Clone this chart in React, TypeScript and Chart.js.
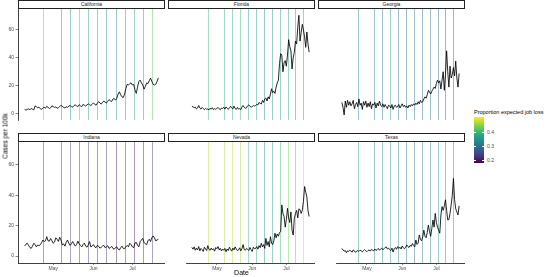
import { useEffect, useRef } from "react";
import { Chart, registerables } from "chart.js";

Chart.register(...registerables);

// ---------------- data ----------------
const stateNames = ["California", "Florida", "Georgia", "Indiana", "Nevada", "Texas"];
const firstDay = 8; // Apr 9 (days after Apr 1)
const weekDays = [22, 36, 43, 50, 57, 64, 71, 78, 85, 92, 99, 106];
const monthTickDays = [30, 61, 91];
const monthTickLabels = ["May", "Jun", "Jul"];
const yTickValues = [0, 20, 40, 60];
const legendTickValues = [0.2, 0.3, 0.4];
const xMin = 2.85;
const xMax = 116.15;
const yMin = -4.6;
const yMax = 75;
const jobLossMin = 0.18;
const jobLossMax = 0.505;

const californiaCases = [
  2.9, 2.5, 3.0, 3.4, 2.8, 3.6, 3.2,
  2.6, 5.5, 5.0, 4.2, 4.6, 3.5, 3.0,
  4.0, 4.6, 3.8, 5.2, 4.5, 3.6, 4.2,
  5.6, 5.0, 4.4, 4.8, 3.8, 4.2, 5.0,
  6.0, 5.2, 4.5, 4.0, 5.0, 4.4, 5.4,
  5.8, 5.0, 4.6, 5.8, 6.2, 5.6, 5.0,
  6.4, 5.6, 5.0, 6.6, 6.0, 5.4, 6.2,
  7.0, 6.4, 5.8, 6.6, 7.6, 6.8, 6.0,
  7.4, 8.6, 7.6, 6.8, 8.0, 9.0, 8.2,
  7.6, 8.8, 10.0, 9.2, 8.6, 10.4, 10.8,
  9.6, 11.0, 14.0, 15.6, 13.5, 12.0, 11.5,
  14.0, 18.0, 21.0, 20.5, 21.5, 22.0, 20.5,
  21.0, 17.0, 14.5, 19.0, 23.0, 24.0, 22.0,
  20.5, 17.5, 19.5, 22.0, 21.5, 23.5, 25.5,
  23.0, 21.0, 20.5, 21.0, 23.0, 25.5,
];
const floridaCases = [
  5.3, 4.8, 4.2, 4.6, 3.4, 4.0, 5.8,
  4.0, 3.2, 4.4, 3.6, 2.8, 3.8, 3.0,
  3.4, 2.6, 3.8, 3.2, 4.2, 2.8, 3.6,
  3.0, 3.8, 4.4, 3.4, 2.8, 4.0, 3.6,
  4.6, 3.2, 4.8, 3.8, 3.0, 4.2, 5.2,
  4.0, 3.4, 5.4, 3.6, 3.0, 4.4, 3.2,
  3.6, 2.8, 4.8, 5.8, 4.4, 3.8, 4.2,
  5.6, 6.2, 5.4, 4.6, 5.0, 5.8, 5.4,
  5.8, 6.6, 6.2, 8.0, 7.4, 6.8, 9.5,
  8.0, 10.5, 11.2, 9.0, 12.0, 10.5, 14.0,
  17.8, 15.0, 16.0, 14.5, 19.0, 22.0, 24.0,
  36.0, 43.0, 42.0, 30.0, 36.5, 38.0, 34.0,
  42.0, 53.0, 48.0, 45.0, 32.0, 40.0, 44.0,
  52.0, 50.0, 62.0, 70.5, 52.0, 58.0, 64.0,
  60.0, 55.0, 47.5, 58.5, 50.0, 44.0,
];
const georgiaCases = [
  8.0, 4.5, -1.0, 9.0, 4.5, 9.5, 6.0,
  8.5, 5.5, 7.0, 9.5, 3.5, 6.5, 8.0,
  5.0, 10.5, 6.0, 7.5, 3.0, 8.5, 6.0,
  9.0, 4.5, 7.5, 5.0, 8.5, 3.5, 7.0,
  6.0, 8.0, 4.0, 7.5, 5.5, 9.0, 6.0,
  5.0, 7.0, 4.5, 6.5, 5.0, 3.5, 6.0,
  5.5, 4.0, 6.5, 3.0, 5.5, 6.0, 4.5,
  5.0, 6.5, 4.0, 5.5, 7.0, 5.0, 6.0,
  4.5, 5.5, 4.0, 6.0, 5.0, 6.5, 5.5,
  7.0, 6.0, 7.5, 6.5, 8.5, 7.0, 9.5,
  8.0, 8.5, 10.5, 12.0, 11.0, 13.5, 16.7,
  15.5, 14.0, 16.0, 17.5, 19.0, 18.0, 21.5,
  24.0, 22.0, 23.5, 17.6, 24.0, 30.0, 16.7,
  28.0, 45.0, 30.0, 19.0, 34.0, 25.5, 28.0,
  33.0, 27.0, 37.6, 25.5, 19.0, 28.8,
];
const indianaCases = [
  6.6, 7.8, 8.4, 7.0, 5.6, 5.0, 6.4,
  8.4, 7.6, 6.0, 7.2, 6.8, 7.4, 8.8,
  10.5, 9.5, 10.0, 12.7, 10.0, 9.8, 11.5,
  10.0, 8.4, 9.2, 12.0, 11.0, 9.6, 12.3,
  10.5, 7.3, 8.0, 6.5, 9.0, 10.5, 8.5,
  7.0, 8.0, 9.5, 8.0, 6.5, 7.5, 9.8,
  8.0, 7.0, 6.0, 7.5, 8.5, 6.5, 5.8,
  7.3, 9.5, 6.0, 6.5, 7.5, 6.0, 5.5,
  7.0, 6.4, 5.2, 5.7, 6.5, 7.0, 5.5,
  6.0, 6.8, 5.0, 5.5, 6.4, 5.0, 4.5,
  5.6, 6.0, 4.5, 4.0, 5.5, 6.5, 5.0,
  4.8, 6.0, 7.0, 6.0, 8.4, 7.5, 6.0,
  5.5, 8.5, 9.0, 7.0, 6.0, 9.5, 10.5,
  11.6, 9.0, 8.0, 7.4, 10.0, 11.0, 9.5,
  12.0, 13.2, 12.0, 10.0, 10.5, 11.0,
];
const nevadaCases = [
  5.7, 4.5, 6.0, 3.8, 5.2, 4.0, 6.2,
  3.4, 5.0, 4.2, 3.0, 5.8, 4.6, 3.6,
  6.8, 4.4, 3.8, 5.2, 4.0, 4.8, 3.2,
  5.6, 4.8, 6.2, 4.0, 5.0, 3.4, 4.6,
  3.8, 5.0, 2.8, 4.6, 3.6, 5.8, 4.4,
  3.2, 5.2, 4.0, 6.0, 4.6, 3.6, 4.0,
  5.4, 3.4, 4.8, 7.5, 4.2, 3.8, 5.0,
  4.4, 3.6, 5.6, 4.2, 3.0, 5.8, 4.8,
  5.0, 6.2, 4.5, 6.8, 5.5, 8.4, 6.0,
  7.5, 5.0, 11.6, 7.0, 9.5, 6.0, 12.7,
  8.5, 7.5, 10.0, 15.0, 12.0, 14.5, 13.0,
  15.5, 16.0, 33.6, 28.0, 26.0, 19.0, 24.0,
  31.4, 25.0, 22.0, 29.0, 17.0, 13.8, 24.8,
  28.0, 30.0, 25.0, 31.0, 30.5, 28.0, 30.0,
  36.0, 45.7, 42.0, 39.0, 30.0, 26.0,
];
const texasCases = [
  5.0, 4.0, 3.2, 3.6, 2.2, 3.4, 3.0,
  3.8, 3.2, 2.6, 4.0, 3.4, 2.4, 3.2,
  3.6, 3.0, 3.8, 3.4, 2.8, 3.6, 4.2,
  3.4, 2.8, 3.6, 4.0, 3.2, 4.4, 3.8,
  3.4, 4.6, 3.6, 4.2, 5.0, 3.8, 4.6,
  5.2, 4.0, 4.8, 5.6, 6.0, 4.6, 5.2,
  4.2, 3.6, 5.2, 2.6, 4.8, 5.6, 4.4,
  6.2, 5.0, 5.8, 4.6, 6.6, 5.4, 4.8,
  5.8, 7.3, 6.2, 5.6, 7.0, 6.4, 8.2,
  7.0, 6.0, 10.5, 7.6, 8.5, 13.8, 11.0,
  10.0, 12.5, 17.0, 13.0, 12.0, 15.5, 20.4,
  16.0, 13.0, 18.0, 23.7, 19.0, 28.0, 22.0,
  19.0, 17.0, 15.0, 27.0, 32.5, 30.0, 33.0,
  37.0, 30.0, 23.7, 24.0, 28.0, 33.6, 40.0,
  51.0, 37.0, 31.0, 29.0, 27.0, 33.0,
];

const californiaJobLoss = [0.42, 0.33, 0.35, 0.40, 0.36, 0.36, 0.34, 0.34, 0.35, 0.37, 0.35, 0.42];
const floridaJobLoss = [0.40, 0.38, 0.38, 0.40, 0.37, 0.36, 0.33, 0.35, 0.36, 0.36, 0.35, 0.36];
const georgiaJobLoss = [0.34, 0.33, 0.31, 0.36, 0.30, 0.29, 0.31, 0.29, 0.30, 0.29, 0.27, 0.28];
const indianaJobLoss = [0.23, 0.22, 0.24, 0.22, 0.24, 0.22, 0.23, 0.20, 0.23, 0.20, 0.21, 0.23];
const nevadaJobLoss = [0.47, 0.46, 0.47, 0.46, 0.40, 0.38, 0.34, 0.36, 0.40, 0.43, 0.42, 0.47];
const texasJobLoss = [0.36, 0.33, 0.34, 0.35, 0.33, 0.31, 0.29, 0.32, 0.33, 0.35, 0.33, 0.34];

const stateCases = [californiaCases, floridaCases, georgiaCases, indianaCases, nevadaCases, texasCases];
const stateJobLoss = [californiaJobLoss, floridaJobLoss, georgiaJobLoss, indianaJobLoss, nevadaJobLoss, texasJobLoss];

// ---------------- styling helpers ----------------
const FONT = '"Liberation Sans", Arial, Helvetica, sans-serif';
const viridisStops = [
  "#440154", "#482475", "#414487", "#355f8d", "#2a788e", "#21918c",
  "#22a884", "#44bf70", "#7ad151", "#bddf26", "#fde725",
];
function hexToRgb(h: string) {
  return [parseInt(h.slice(1, 3), 16), parseInt(h.slice(3, 5), 16), parseInt(h.slice(5, 7), 16)];
}
function viridis(v: number, alpha: number) {
  let t = (v - jobLossMin) / (jobLossMax - jobLossMin);
  t = Math.max(0, Math.min(1, t));
  const p = t * (viridisStops.length - 1);
  const i = Math.min(Math.floor(p), viridisStops.length - 2);
  const f = p - i;
  const a = hexToRgb(viridisStops[i]);
  const b = hexToRgb(viridisStops[i + 1]);
  const c = a.map((x, k) => Math.round(x + (b[k] - x) * f));
  return `rgba(${c[0]},${c[1]},${c[2]},${alpha})`;
}

// vertical weekly lines, placed through the chart's x scale
const weekLinesPlugin = {
  id: "weekLines",
  beforeDatasetsDraw(chart: any, _args: any, opts: any) {
    const { ctx, chartArea, scales } = chart;
    const vals: number[] = opts.values || [];
    ctx.save();
    ctx.lineWidth = 1;
    weekDays.forEach((d, i) => {
      const x = Math.round(scales.x.getPixelForValue(d)) + 0.5;
      ctx.strokeStyle = viridis(vals[i], 0.45);
      ctx.beginPath();
      ctx.moveTo(x, chartArea.top);
      ctx.lineTo(x, chartArea.bottom);
      ctx.stroke();
    });
    ctx.restore();
  },
};

const colLeft = [18, 168, 318];
const rowTop = [9, 142];
const stripTop = [0, 133];
const PW = 147;
const PH = 121;
const YAXIS_W = 18;
const XAXIS_H = 10;

function Panel({ index }: { index: number }) {
  const ref = useRef<HTMLCanvasElement>(null);
  const c = index % 3;
  const r = Math.floor(index / 3);
  const left = c === 0 ? 0 : colLeft[c];
  const width = c === 0 ? YAXIS_W + PW : PW;
  const height = r === 1 ? PH + XAXIS_H : PH;

  useEffect(() => {
    if (!ref.current) return;
    const cases = stateCases[index];
    const loss = stateJobLoss[index];
    const chart = new Chart(ref.current, {
      type: "line",
      data: {
        datasets: [
          {
            data: cases.map((v, i) => ({ x: firstDay + i, y: v })),
            borderColor: "#000000",
            borderWidth: 0.85,
            pointRadius: 0,
            tension: 0,
          },
        ],
      },
      plugins: [weekLinesPlugin],
      options: {
        animation: false,
        responsive: false,
        maintainAspectRatio: false,
        devicePixelRatio: 1,
        events: [],
        layout: { padding: 0 },
        plugins: {
          legend: { display: false },
          tooltip: { enabled: false },
          title: { display: false },
          weekLines: { values: loss },
        },
        scales: {
          x: {
            type: "linear",
            min: xMin,
            max: xMax,
            display: r === 1,
            afterBuildTicks: (s: any) => {
              s.ticks = monthTickDays.map((v) => ({ value: v }));
            },
            afterFit: (s: any) => {
              s.height = XAXIS_H;
              s.paddingLeft = 0;
              s.paddingRight = 0;
            },
            ticks: {
              callback: (_v: any, i: number) => monthTickLabels[i],
              font: { size: 5, family: FONT },
              color: "#4d4d4d",
              padding: 0.5,
              maxRotation: 0,
              autoSkip: false,
            },
            grid: {
              display: true,
              drawOnChartArea: false,
              drawTicks: true,
              tickLength: 2,
              color: "#333333",
              lineWidth: 0.6,
            },
            border: { display: true, color: "#111111", width: 0.8 },
          },
          y: {
            type: "linear",
            min: yMin,
            max: yMax,
            display: c === 0,
            afterBuildTicks: (s: any) => {
              s.ticks = yTickValues.map((v) => ({ value: v }));
            },
            afterFit: (s: any) => {
              s.width = YAXIS_W;
              s.paddingTop = 0;
              s.paddingBottom = 0;
            },
            ticks: {
              callback: (v: any) => String(v),
              font: { size: 5, family: FONT },
              color: "#4d4d4d",
              padding: 1.5,
              autoSkip: false,
            },
            grid: {
              display: true,
              drawOnChartArea: false,
              drawTicks: true,
              tickLength: 2.5,
              color: "#333333",
              lineWidth: 0.6,
            },
            border: { display: true, color: "#111111", width: 0.8 },
          },
        },
      } as any,
    });
    return () => chart.destroy();
  }, [index]);

  return (
    <canvas
      ref={ref}
      width={width}
      height={height}
      style={{ position: "absolute", left, top: rowTop[r], width, height, display: "block" }}
    />
  );
}

function Strip({ index }: { index: number }) {
  const c = index % 3;
  const r = Math.floor(index / 3);
  return (
    <div
      style={{
        position: "absolute",
        left: colLeft[c],
        top: stripTop[r],
        width: PW,
        height: 9,
        boxSizing: "border-box",
        border: "0.8px solid #222",
        background: "#fff",
        fontSize: 5,
        lineHeight: "7.5px",
        textAlign: "center",
        color: "#1a1a1a",
        fontFamily: FONT,
      }}
    >
      {stateNames[index]}
    </div>
  );
}

function Legend() {
  const barLeft = 474;
  const barTop = 117;
  const barW = 10;
  const barH = 46;
  const gradient = `linear-gradient(to top, ${viridisStops.join(", ")})`;
  const yFor = (v: number) => barTop + ((jobLossMax - v) / (jobLossMax - jobLossMin)) * barH;
  return (
    <>
      <div
        style={{
          position: "absolute",
          left: barLeft,
          top: 109,
          fontSize: 5.5,
          lineHeight: "6px",
          whiteSpace: "nowrap",
          color: "#000",
          fontFamily: FONT,
        }}
      >
        Proportion expected job loss
      </div>
      <div
        style={{
          position: "absolute",
          left: barLeft,
          top: barTop,
          width: barW,
          height: barH,
          background: gradient,
        }}
      />
      {legendTickValues.map((v) => (
        <div key={v}>
          <div style={{ position: "absolute", left: barLeft, top: yFor(v) - 0.25, width: 2, height: 0.5, background: "#fff" }} />
          <div style={{ position: "absolute", left: barLeft + barW - 2, top: yFor(v) - 0.25, width: 2, height: 0.5, background: "#fff" }} />
          <div
            style={{
              position: "absolute",
              left: barLeft + barW + 3,
              top: yFor(v) - 3,
              fontSize: 5,
              lineHeight: "6px",
              color: "#4d4d4d",
              fontFamily: FONT,
            }}
          >
            {v.toFixed(1)}
          </div>
        </div>
      ))}
    </>
  );
}

export default function App() {
  return (
    <div
      style={{
        position: "absolute",
        left: 0,
        top: 0,
        width: 550,
        height: 277,
        overflow: "hidden",
        background: "#ffffff",
        fontFamily: FONT,
      }}
    >
      {stateNames.map((_, i) => (
        <Panel key={"p" + i} index={i} />
      ))}
      {stateNames.map((_, i) => (
        <Strip key={"s" + i} index={i} />
      ))}
      <div
        style={{
          position: "absolute",
          left: 4.5,
          top: 136,
          transform: "translate(-50%, -50%) rotate(-90deg)",
          fontSize: 6.5,
          whiteSpace: "nowrap",
          color: "#000",
        }}
      >
        Cases per 100k
      </div>
      <div
        style={{
          position: "absolute",
          left: 241.5,
          top: 272.5,
          transform: "translate(-50%, -50%)",
          fontSize: 7,
          lineHeight: "8px",
          whiteSpace: "nowrap",
          color: "#000",
        }}
      >
        Date
      </div>
      <Legend />
    </div>
  );
}
